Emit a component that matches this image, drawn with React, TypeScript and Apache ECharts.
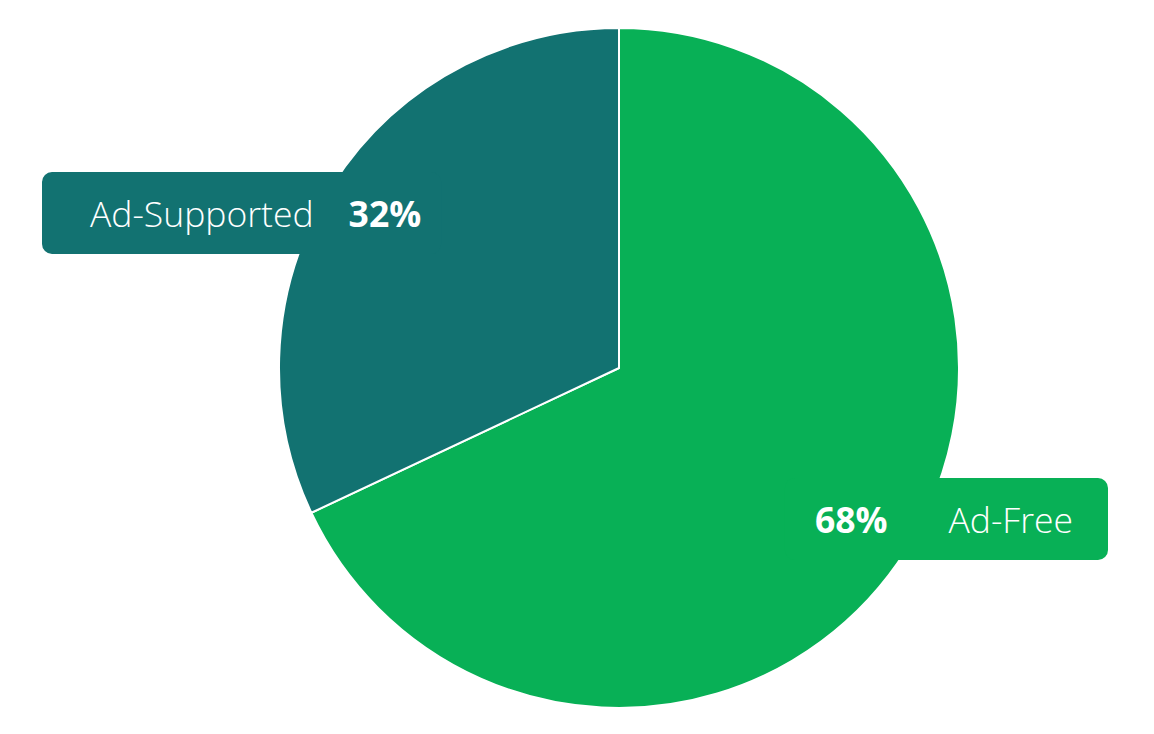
import React, { useEffect, useRef } from "react";
import * as echarts from "echarts";

const categories = ["Ad-Free", "Ad-Supported"];
const values = [68, 32];
const colors = ["#08b056", "#127271"];

export default function App() {
  const ref = useRef<HTMLDivElement>(null);
  useEffect(() => {
    document.body.style.margin = "0";
    const chart = echarts.init(ref.current!, null, { renderer: "svg" });
    const rich = {
      name: { fontFamily: "Open Sans", fontWeight: 300, fontSize: 35.5, color: "#ffffff", lineHeight: 40 },
      pct: { fontFamily: "Open Sans", fontWeight: 700, fontSize: 35.5, color: "#ffffff", lineHeight: 40 },
      gapL: { width: 35 },
      gapR: { width: 61 },
    };
    chart.setOption({
      animation: false,
      backgroundColor: "#ffffff",
      series: [
        {
          type: "pie",
          center: [619, 368],
          radius: [0, 340],
          startAngle: 90,
          clockwise: true,
          avoidLabelOverlap: false,
          itemStyle: { borderColor: "#ffffff", borderWidth: 2 },
          labelLine: { show: false },
          labelLayout: (params: any) =>
            params.dataIndex === 0
              ? { x: 1108, y: 519, align: "right", verticalAlign: "middle" }
              : { x: 42, y: 213, align: "left", verticalAlign: "middle" },
          data: categories.map((c, i) => ({
            name: c,
            value: values[i],
            itemStyle: { color: colors[i] },
            label: {
              show: true,
              position: "inside",
              backgroundColor: colors[i],
              borderRadius: 10,
              padding: i === 0 ? [21, 35, 21, 30] : [21, 20, 21, 48],
              rich,
              formatter: (p: any) =>
                i === 0
                  ? `{pct|${Math.round(p.percent)}%}{gapR|}{name|${p.name}}`
                  : `{name|${p.name}}{gapL|}{pct|${Math.round(p.percent)}%}`,
            },
          })),
        },
      ],
    });
    return () => chart.dispose();
  }, []);
  return <div ref={ref} style={{ width: 1154, height: 734 }} />;
}
